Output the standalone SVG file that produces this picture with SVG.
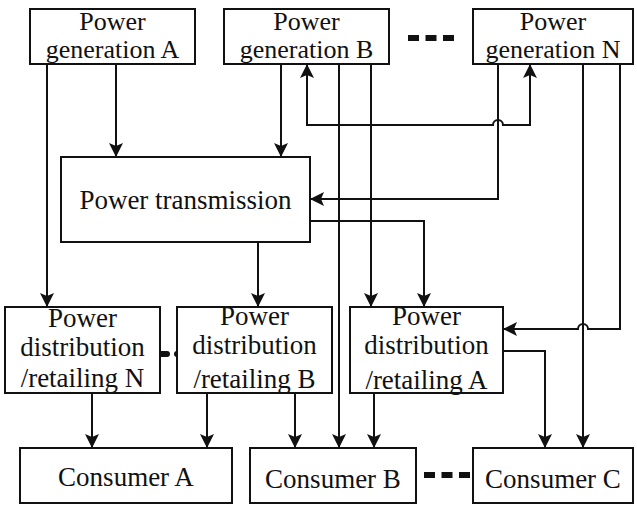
<svg xmlns="http://www.w3.org/2000/svg" width="637" height="507" viewBox="0 0 637 507">
<style>
.box{fill:#fff;stroke:#111;stroke-width:2}
text{font-family:"Liberation Serif","Times New Roman",serif;font-size:27px;fill:#111;text-anchor:middle}
.g text{font-size:26px}
.c{fill:none;stroke:#111;stroke-width:2}
.a{marker-end:url(#arr)}
.dots{stroke:#111;stroke-width:6;stroke-dasharray:11 6.5}
</style>
<defs>
<marker id="arr" viewBox="0 0 14 14" refX="14" refY="7" markerWidth="14" markerHeight="14" markerUnits="userSpaceOnUse" orient="auto-start-reverse">
<path d="M0,0 L14,7 L0,14 L3,7 z" fill="#111"/>
</marker>
</defs>
<rect width="637" height="507" fill="#fff"/>
<g id="connectors">
<path class="c a" d="M47,64 V307"/>
<path class="c a" d="M116,64 V157"/>
<path class="c a" d="M281,64 V157"/>
<path class="c a" d="M307,64 V125 H493 A5,5 0 0 1 503,125 H530 V64" marker-start="url(#arr)"/>
<path class="c a" d="M339,64 V448"/>
<path class="c a" d="M371,64 V307"/>
<path class="c a" d="M498,64 V199 H310"/>
<path class="c a" d="M310,221 H424 V307"/>
<path class="c a" d="M258,242 V307"/>
<path class="c a" d="M583,64 V448"/>
<path class="c a" d="M620,64 V329 H588 A5,5 0 0 0 578,329 H503"/>
<path class="c a" d="M503,351 H545 V448"/>
<path class="c a" d="M374,393 V448"/>
<path class="c a" d="M92,393 V448"/>
<path class="c a" d="M207,393 V448"/>
<path class="c a" d="M295,393 V448"/>
<line class="dots" x1="408" y1="38" x2="454" y2="38"/>
<line class="dots" x1="424" y1="475" x2="472" y2="475"/>
<line x1="157" y1="354" x2="167" y2="354" stroke="#111" stroke-width="6" stroke-linecap="round"/>
<circle cx="177" cy="354" r="3" fill="#111"/>
</g>
<g id="genA" class="g"><rect class="box" x="30" y="9" width="165" height="55"/><text x="112.5" y="30">Power</text><text x="112.5" y="58">generation A</text></g>
<g id="genB" class="g"><rect class="box" x="224" y="9" width="165" height="55"/><text x="306.5" y="30">Power</text><text x="306.5" y="58">generation B</text></g>
<g id="genN" class="g"><rect class="box" x="473" y="9" width="160" height="55"/><text x="553" y="30">Power</text><text x="553" y="58">generation N</text></g>
<g id="transmission"><rect class="box" x="61" y="157" width="249" height="85"/><text x="185.5" y="209">Power transmission</text></g>
<g id="distN"><rect class="box" x="5" y="307" width="155" height="86"/><text x="82.5" y="327">Power</text><text x="82.5" y="356">distribution</text><text x="82.5" y="387">/retailing N</text></g>
<g id="distB"><rect class="box" x="177" y="307" width="155" height="86"/><text x="254.5" y="325">Power</text><text x="254.5" y="354">distribution</text><text x="254.5" y="388">/retailing B</text></g>
<g id="distA"><rect class="box" x="350" y="307" width="153" height="86"/><text x="426.5" y="325">Power</text><text x="426.5" y="354">distribution</text><text x="426.5" y="389">/retailing A</text></g>
<g id="consA"><rect class="box" x="20" y="448" width="212" height="55"/><text x="126" y="486">Consumer A</text></g>
<g id="consB"><rect class="box" x="250" y="448" width="166" height="55"/><text x="333" y="488">Consumer B</text></g>
<g id="consC"><rect class="box" x="473" y="448" width="160" height="55"/><text x="553" y="488">Consumer C</text></g>
</svg>
